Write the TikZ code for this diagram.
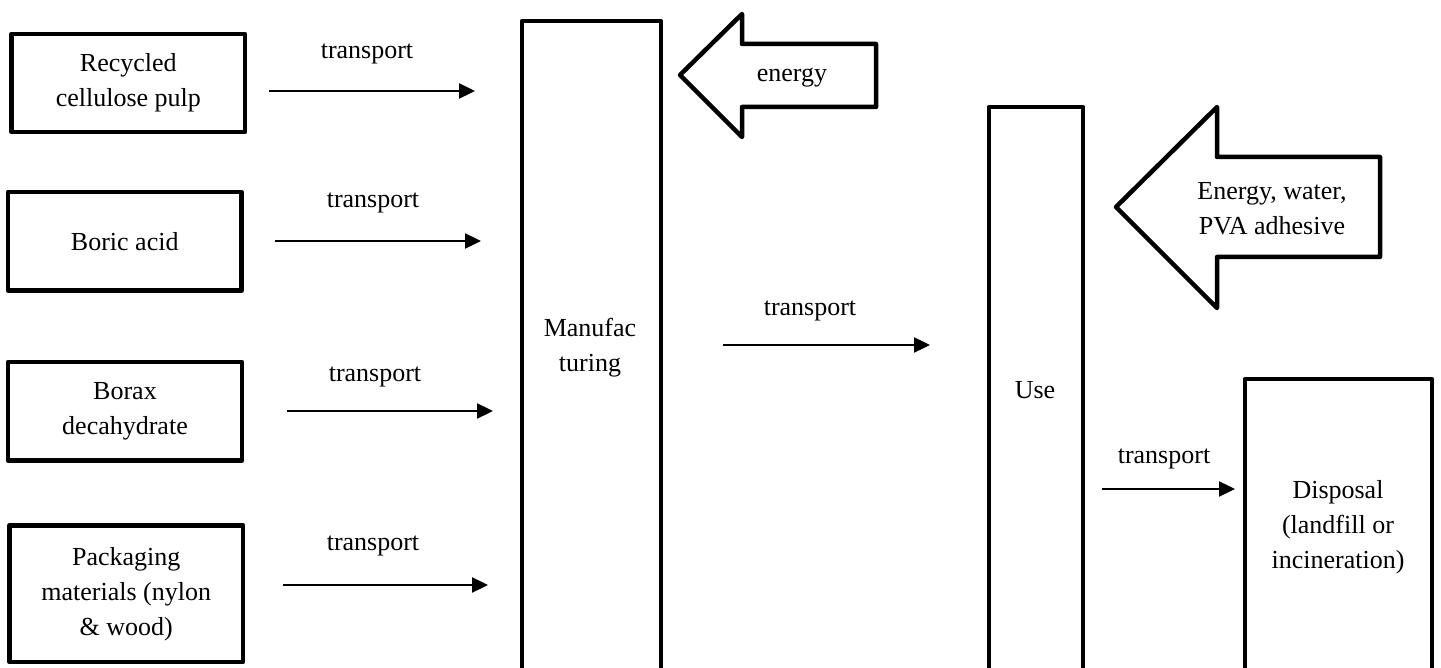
\documentclass[tikz,border=0pt]{standalone}
\usepackage{fontspec}
\setmainfont{Liberation Serif}
\usetikzlibrary{arrows.meta,calc}
\begin{document}
\begin{tikzpicture}[x=0.5pt,y=-0.5pt,
  txt/.style={font=\fontsize{13}{17.5}\selectfont},
  inbox/.style={draw,line width=2.25pt,line join=round,rectangle,inner sep=0pt,align=center,txt},
  lbl/.style={txt,inner sep=0pt,align=center},
  flow/.style={line width=1.2pt,-{Triangle[length=8pt,width=7.5pt]}},
  blockarrow/.style={draw,line width=2.25pt,line join=round,fill=white}]
\useasboundingbox (0,0) rectangle (1441,668);

% input boxes
\node[inbox,minimum width=116.65pt,minimum height=49pt] (b1) at (128.35,83) {Recycled\\cellulose pulp};
\node[inbox,minimum width=116.75pt,minimum height=49.25pt] (b2) at (124.75,241.25) {Boric acid};
\node[inbox,minimum width=117pt,minimum height=49.25pt] (b3) at (125,411.25) {Borax\\decahydrate};
\node[inbox,minimum width=116.75pt,minimum height=68.25pt] (b4) at (126.25,593.75) {Packaging\\materials (nylon\\\& wood)};

% tall boxes (open at the bottom edge)
\node[inbox,minimum width=69.5pt,minimum height=349.5pt] (man) at (591.5,370.5) {};
\node[lbl] (mantxt) at (590,347.5) {Manufac\\turing};
\node[inbox,minimum width=47pt,minimum height=306.5pt] (use) at (1036,413.5) {};
\node[lbl,anchor=base] (usetxt) at (1035,399) {Use};
\node[inbox,minimum width=93.5pt,minimum height=170.5pt] (disp) at (1338.5,549.5) {};
\node[lbl] (disptxt) at (1338,527) {Disposal\\(landfill or\\incineration)};

% transport arrows
\coordinate (a1s) at (269,91);  \coordinate (a1e) at (475,91);
\coordinate (a2s) at (275,241); \coordinate (a2e) at (481,241);
\coordinate (a3s) at (287,411); \coordinate (a3e) at (493,411);
\coordinate (a4s) at (283,585); \coordinate (a4e) at (488,585);
\coordinate (a5s) at (723,345); \coordinate (a5e) at (930,345);
\coordinate (a6s) at (1102,489); \coordinate (a6e) at (1235,489);
\draw[flow] (a1s) -- (a1e);
\draw[flow] (a2s) -- (a2e);
\draw[flow] (a3s) -- (a3e);
\draw[flow] (a4s) -- (a4e);
\draw[flow] (a5s) -- (a5e);
\draw[flow] (a6s) -- (a6e);
\node[lbl,anchor=base] (t1) at (367,59) {transport};
\node[lbl,anchor=base] (t2) at (373,208) {transport};
\node[lbl,anchor=base] (t3) at (375,381) {transport};
\node[lbl,anchor=base] (t4) at (373,550) {transport};
\node[lbl,anchor=base] (t5) at (810,316) {transport};
\node[lbl,anchor=base] (t6) at (1164,463) {transport};

% block arrows
\draw[blockarrow] (680,75) -- (742,14) -- (742,44) -- (876,44) -- (876,107) -- (742,107) -- (742,137) -- cycle;
\node[lbl,anchor=base] (energy) at (792,82) {energy};
\draw[blockarrow] (1116,207) -- (1217,107) -- (1217,157) -- (1380,157) -- (1380,257) -- (1217,257) -- (1217,308) -- cycle;
\node[lbl] (ewp) at (1272,208.5) {Energy, water,\\PVA adhesive};
\end{tikzpicture}
\end{document}
